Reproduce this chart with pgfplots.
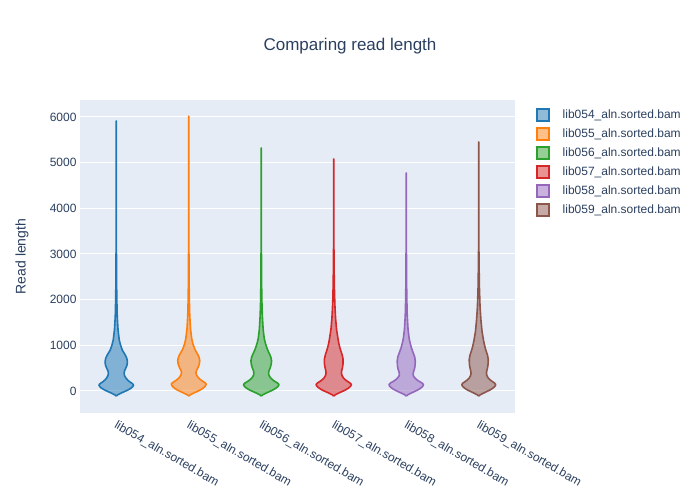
\documentclass[border=0pt]{standalone}
\usepackage{fontspec}
\setmainfont{Liberation Sans}
\usepackage{pgfplots}
\pgfplotsset{compat=1.18}
\usepackage{pgfplotstable}
\definecolor{bgc}{HTML}{E5ECF6}
\definecolor{txt}{HTML}{2A3F5F}
\definecolor{c1}{HTML}{1F77B4}
\definecolor{c2}{HTML}{FF7F0E}
\definecolor{c3}{HTML}{2CA02C}
\definecolor{c4}{HTML}{D62728}
\definecolor{c5}{HTML}{9467BD}
\definecolor{c6}{HTML}{8C564B}

% y = read length, w = half width (pixels)
\pgfplotstableread{
y w
-110 0
-80 1.8
-50 4.5
-15 8
20 11.5
58 14.5
95 16.5
131 17.3
165 16
200 13.5
241 11.3
280 9.8
330 8.4
387 7.8
440 8.3
496 9.5
570 10.8
642 11.2
720 10.5
788 9
850 7.3
898 6
1007 4.3
1117 3
1336 1.8
1628 1
1993 0.6
2365 0.35
3000 0.2
4000 0.1
5000 0.05
5912 0
}\vA
\pgfplotstableread{
y w
-110 0
-80 1.8
-50 4.5
-15 8
20 11.3
60 14.2
100 16.3
150 17.5
185 16
220 13.5
260 11
300 9.3
350 7.8
400 7.2
450 7.8
510 9.2
590 10.6
670 11
740 10.3
810 8.8
870 7.2
930 5.8
1030 4.2
1140 3
1350 1.8
1650 1
2000 0.6
2400 0.35
3000 0.2
4000 0.1
5000 0.05
6020 0
}\vB
\pgfplotstableread{
y w
-110 0
-80 1.8
-50 4.5
-15 8
20 11.5
60 14.6
100 16.8
140 17.7
175 16.2
210 13.6
250 11
290 9.2
340 7.8
390 7.3
445 7.8
510 9
590 10
660 10.3
735 9.7
805 8.4
870 7
940 5.7
1040 4.2
1150 3
1350 1.9
1650 1.1
2000 0.6
2400 0.35
3000 0.2
4000 0.1
4800 0.05
5320 0
}\vC
\pgfplotstableread{
y w
-110 0
-80 1.8
-50 4.5
-15 8
20 11.5
60 14.5
100 16.7
140 17.7
175 16.3
210 13.8
250 11.3
290 9.6
340 8.2
395 7.7
450 8
520 8.8
600 9.3
700 9.3
790 8.4
870 7.2
950 6.1
1050 5
1150 4.2
1350 2.8
1600 1.8
1900 1.1
2300 0.6
2700 0.35
3100 0.2
4000 0.08
5080 0
}\vD
\pgfplotstableread{
y w
-110 0
-80 1.8
-50 4.5
-15 8
20 11.3
60 14.3
100 16.4
140 17.3
175 15.8
210 13
250 10.3
290 8.5
330 7.2
365 6.8
420 7.3
490 8.3
570 8.9
660 9
740 8.5
810 7.4
880 6.2
950 5.1
1050 3.9
1150 2.9
1350 1.8
1650 1
2000 0.6
2400 0.35
3000 0.2
4000 0.08
4773 0
}\vE
\pgfplotstableread{
y w
-110 0
-80 1.8
-50 4.4
-15 7.8
20 11.1
60 14
100 16.1
140 17
175 15.8
210 13.4
250 11
290 9.3
340 8.1
390 7.7
450 8.1
520 8.9
600 9.4
690 9.5
780 8.8
860 7.6
940 6.5
1030 5.5
1117 4.7
1300 3.3
1550 2.2
1850 1.3
2250 0.7
2650 0.4
3050 0.2
4000 0.08
4800 0.04
5452 0
}\vF

% build closed outlines: right side upward, then left side downward
\newcommand{\mkoutline}[2]{%
  \pgfplotstablegetrowsof{#1}\xdef#2{\pgfplotsretval}%
  \pgfplotstablesort[sort key=y, sort cmp=float >]{\tmprev}{#1}%
  \pgfplotstablevertcat{#1}{\tmprev}%
}
\mkoutline{\vA}{\nA}
\mkoutline{\vB}{\nB}
\mkoutline{\vC}{\nC}
\mkoutline{\vD}{\nD}
\mkoutline{\vE}{\nE}
\mkoutline{\vF}{\nF}

\newcommand{\violin}[4]{%
  \addplot[draw=#3, fill=#3, fill opacity=0.5, line width=1.6bp, line join=round]
    table[x expr={#2+ifthenelse(\coordindex<#4,1,-1)*\thisrow{w}/72.5}, y=y] {#1};
}

\begin{document}
\begin{tikzpicture}
\path[use as bounding box] (-80bp,-87bp) rectangle (620bp,413bp);
\begin{axis}[
  at={(0,0)}, anchor=south west,
  scale only axis, width=435bp, height=313bp,
  xmin=-0.5, xmax=5.5, ymin=-482, ymax=6372,
  axis background/.style={fill=bgc},
  axis line style={draw=none},
  tick style={draw=none},
  ymajorgrids,
  major grid style={white, line width=1bp},
  ytick={0,1000,2000,3000,4000,5000,6000},
  extra y ticks={0}, extra y tick labels={},
  extra y tick style={grid style={white, line width=2bp}},
  scaled y ticks=false,
  /pgf/number format/1000 sep={},
  /pgf/number format/assume math mode=true,
  xtick={0,1,2,3,4,5},
  xticklabels={lib054\_aln.sorted.bam,lib055\_aln.sorted.bam,lib056\_aln.sorted.bam,lib057\_aln.sorted.bam,lib058\_aln.sorted.bam,lib059\_aln.sorted.bam},
  xticklabel style={rotate=-30, anchor=north west, font=\fontsize{12bp}{14bp}\selectfont, text=txt, inner sep=2bp, yshift=-3bp, xshift=3bp},
  yticklabel style={font=\fontsize{12bp}{14bp}\selectfont, text=txt},
  ylabel={Read length},
  ylabel style={font=\fontsize{14bp}{16bp}\selectfont, text=txt, at={(axis description cs:-0.1333,0.5)}, anchor=center},
  title={Comparing read length},
  title style={font=\fontsize{17bp}{20bp}\selectfont, text=txt, at={(axis description cs:0.5,1)}, anchor=center, xshift=52.5bp, yshift=48bp},
  legend style={at={(axis description cs:1,1)}, anchor=north west, xshift=18bp, yshift=-6bp, draw=none, fill=none,
     font=\fontsize{12bp}{14bp}\selectfont, text=txt, row sep=5.5bp,
     /tikz/every odd column/.append style={column sep=13bp},
     nodes={inner sep=0pt, anchor=west}},
  legend cell align=left,
  legend image code/.code={\draw[#1, line width=1.5bp] (0bp,-6bp) rectangle (12bp,6bp);},
]
\addlegendimage{draw=c1, fill=c1, fill opacity=0.5}
\addlegendimage{draw=c2, fill=c2, fill opacity=0.5}
\addlegendimage{draw=c3, fill=c3, fill opacity=0.5}
\addlegendimage{draw=c4, fill=c4, fill opacity=0.5}
\addlegendimage{draw=c5, fill=c5, fill opacity=0.5}
\addlegendimage{draw=c6, fill=c6, fill opacity=0.5}
\legend{lib054\_aln.sorted.bam,lib055\_aln.sorted.bam,lib056\_aln.sorted.bam,lib057\_aln.sorted.bam,lib058\_aln.sorted.bam,lib059\_aln.sorted.bam}
\violin{\vA}{0}{c1}{\nA}
\violin{\vB}{1}{c2}{\nB}
\violin{\vC}{2}{c3}{\nC}
\violin{\vD}{3}{c4}{\nD}
\violin{\vE}{4}{c5}{\nE}
\violin{\vF}{5}{c6}{\nF}
\end{axis}
\end{tikzpicture}
\end{document}
